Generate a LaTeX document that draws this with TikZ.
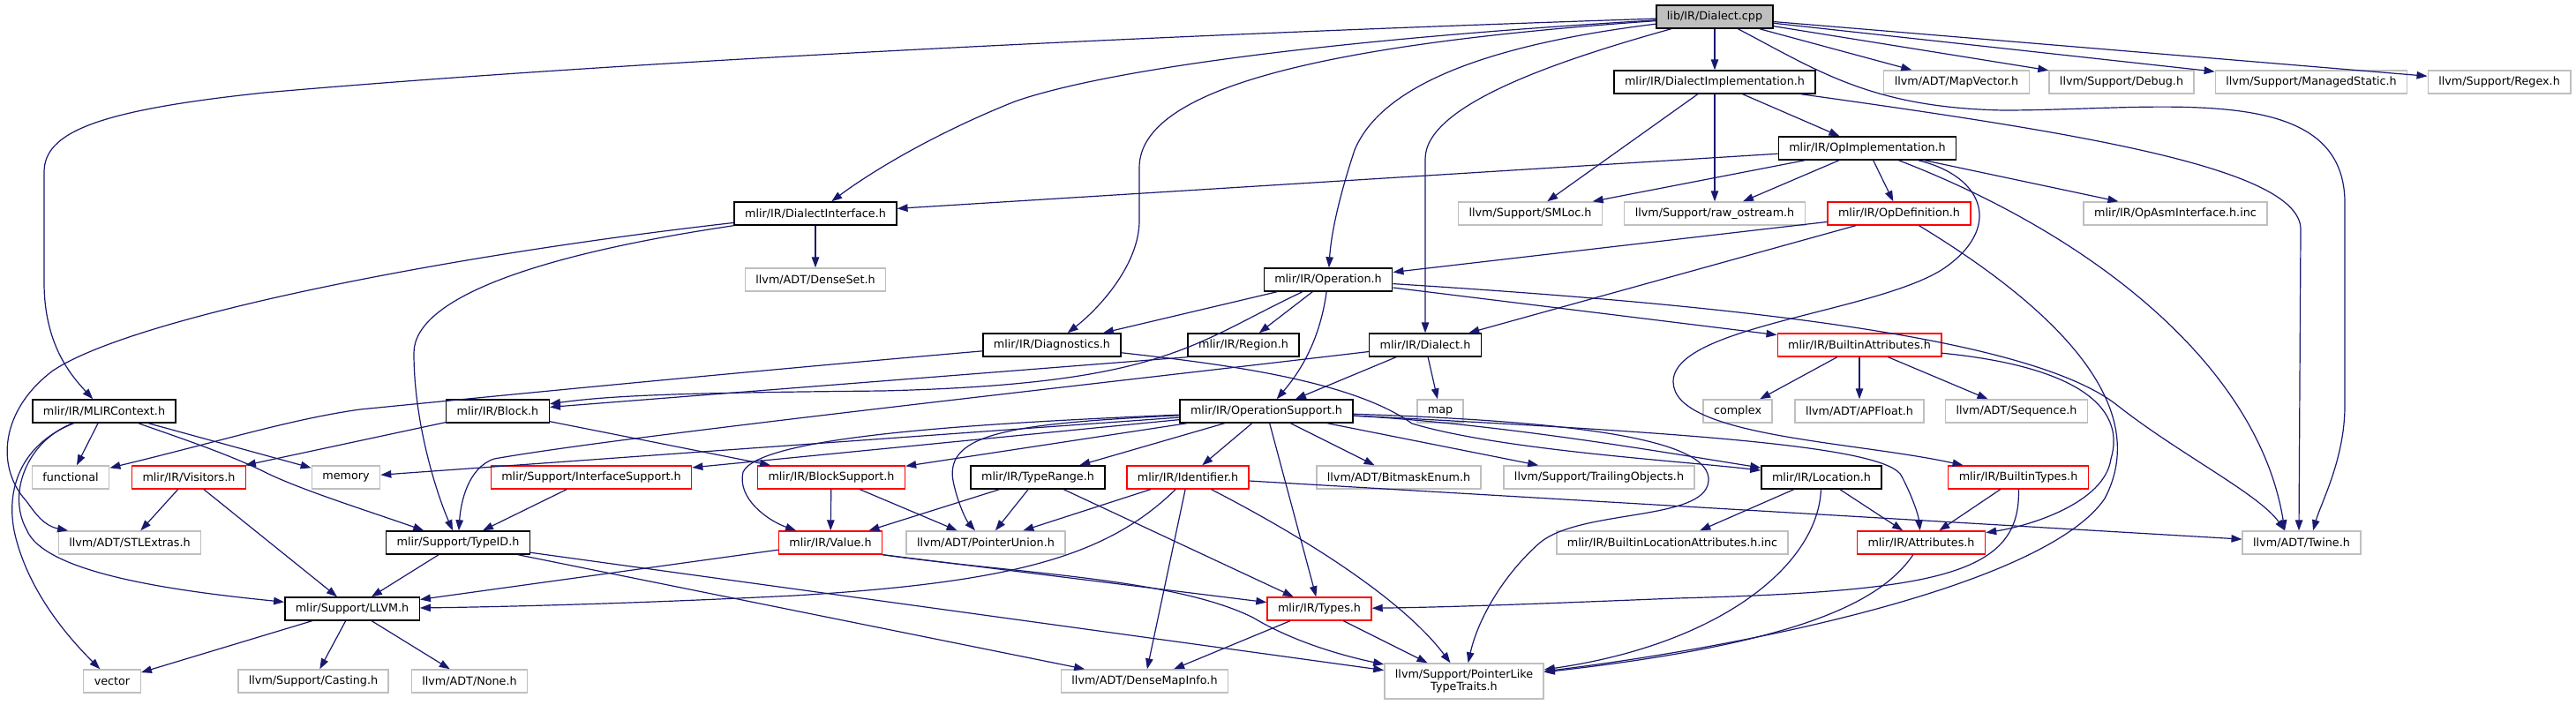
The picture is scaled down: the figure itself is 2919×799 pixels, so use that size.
\documentclass[tikz,border=0pt]{standalone}
\usepackage{fontspec}
\setmainfont{DejaVu Sans}
\usetikzlibrary{arrows.meta}
\definecolor{edgeblue}{RGB}{25,25,112}
\definecolor{extgrey}{RGB}{191,191,191}

\begin{document}
\begin{tikzpicture}[
  x=1pt, y=-1pt,
  font=\fontsize{12.75}{14.5}\selectfont,
  hdr/.style={line width=1.4pt, inner xsep=12pt, inner ysep=0pt,
    minimum height=26pt, align=center},
  doc/.style={hdr, draw=black},
  ext/.style={hdr, draw=extgrey},
  trunc/.style={hdr, draw=red},
  root/.style={doc, fill=extgrey},
  dep/.style={draw=edgeblue, line width=1.2pt,
    -{Triangle[length=12pt,width=8.5pt]}}
]
\useasboundingbox (0,0) rectangle (2919,799);

% row by row, as dot placed them
\node[root] (dialectcpp) at (1943,19) {lib/IR/Dialect.cpp};

\node[doc] (dialectimpl) at (1943,93) {mlir/IR/DialectImplementation.h};
\node[ext] (mapvector) at (2217,93) {llvm/ADT/MapVector.h};
\node[ext] (debug) at (2404,93) {llvm/Support/Debug.h};
\node[ext] (managedstatic) at (2619,93) {llvm/Support/ManagedStatic.h};
\node[ext] (regex) at (2832,93) {llvm/Support/Regex.h};

\node[doc] (opimpl) at (2116,168) {mlir/IR/OpImplementation.h};

\node[doc] (dialectiface) at (924,242) {mlir/IR/DialectInterface.h};
\node[ext] (smloc) at (1734,242) {llvm/Support/SMLoc.h};
\node[ext] (rawostream) at (1943,242) {llvm/Support/raw\_ostream.h};
\node[trunc] (opdef) at (2152,242) {mlir/IR/OpDefinition.h};
\node[ext] (opasm) at (2465,242) {mlir/IR/OpAsmInterface.h.inc};

\node[ext] (denseset) at (924,317) {llvm/ADT/DenseSet.h};
\node[doc] (operation) at (1505,317) {mlir/IR/Operation.h};

\node[doc] (diagnostics) at (1192,391) {mlir/IR/Diagnostics.h};
\node[doc] (region) at (1409,391) {mlir/IR/Region.h};
\node[doc] (dialecth) at (1615,391) {mlir/IR/Dialect.h};
\node[trunc] (builtinattr) at (2107,391) {mlir/IR/BuiltinAttributes.h};

\node[doc] (mlircontext) at (118,466) {mlir/IR/MLIRContext.h};
\node[doc] (block) at (564,466) {mlir/IR/Block.h};
\node[doc] (opsupport) at (1435,466) {mlir/IR/OperationSupport.h};
\node[ext] (map) at (1632,466) {map};
\node[ext] (complex) at (1969,466) {complex};
\node[ext] (apfloat) at (2107,466) {llvm/ADT/APFloat.h};
\node[ext] (sequence) at (2285,466) {llvm/ADT/Sequence.h};

\node[ext] (functional) at (80,541) {functional};
\node[trunc] (visitors) at (214,541) {mlir/IR/Visitors.h};
\node[ext] (memory) at (392,541) {memory};
\node[trunc] (ifacesupport) at (670,541) {mlir/Support/InterfaceSupport.h};
\node[trunc] (blocksupport) at (942,541) {mlir/IR/BlockSupport.h};
\node[doc] (typerange) at (1176,541) {mlir/IR/TypeRange.h};
\node[trunc] (identifier) at (1346,541) {mlir/IR/Identifier.h};
\node[ext] (bitmask) at (1585,541) {llvm/ADT/BitmaskEnum.h};
\node[ext] (trailing) at (1812,541) {llvm/Support/TrailingObjects.h};
\node[doc] (location) at (2064,541) {mlir/IR/Location.h};
\node[trunc] (builtintypes) at (2287,541) {mlir/IR/BuiltinTypes.h};

\node[ext] (stlextras) at (147,615) {llvm/ADT/STLExtras.h};
\node[doc] (typeid) at (519,615) {mlir/Support/TypeID.h};
\node[trunc] (value) at (941,615) {mlir/IR/Value.h};
\node[ext] (pointerunion) at (1117,615) {llvm/ADT/PointerUnion.h};
\node[ext] (builtinloc) at (1895,615) {mlir/IR/BuiltinLocationAttributes.h.inc};
\node[trunc] (attributes) at (2177,615) {mlir/IR/Attributes.h};
\node[ext] (twine) at (2608,615) {llvm/ADT/Twine.h};

\node[doc] (llvmh) at (399,690) {mlir/Support/LLVM.h};
\node[trunc] (types) at (1495,690) {mlir/IR/Types.h};

\node[ext] (vector) at (127,772) {vector};
\node[ext] (casting) at (355,772) {llvm/Support/Casting.h};
\node[ext] (none) at (532,772) {llvm/ADT/None.h};
\node[ext] (densemapinfo) at (1297,772) {llvm/ADT/DenseMapInfo.h};
\node[ext, minimum height=40pt] (pointerlike) at (1659,772) {llvm/Support/PointerLike\\TypeTraits.h};

% lib/IR/Dialect.cpp
\draw[dep] (dialectcpp) .. controls (1300,40) and (700,70) .. (300,105)
  .. controls (110,125) and (50,150) .. (50,195) -- (50,320)
  .. controls (50,390) and (80,425) .. (mlircontext);
\draw[dep] (dialectcpp) .. controls (1500,45) and (1250,80) .. (1150,115)
  .. controls (1050,155) and (980,200) .. (dialectiface);
\draw[dep] (dialectcpp) .. controls (1500,50) and (1291,100) .. (1291,190) -- (1291,250)
  .. controls (1291,300) and (1245,350) .. (diagnostics);
\draw[dep] (dialectcpp) .. controls (1650,55) and (1560,110) .. (1535,170)
  .. controls (1515,230) and (1508,270) .. (operation);
\draw[dep] (dialectcpp) .. controls (1760,70) and (1615,120) .. (1615,180) -- (dialecth);
\draw[dep] (dialectcpp) -- (dialectimpl);
\draw[dep] (dialectcpp) -- (mapvector);
\draw[dep] (dialectcpp) -- (debug);
\draw[dep] (dialectcpp) -- (managedstatic);
\draw[dep] (dialectcpp) -- (regex);
\draw[dep] (dialectcpp) .. controls (2060,80) and (2120,122) .. (2270,125)
  .. controls (2450,125) and (2657,90) .. (2657,230) -- (2657,460)
  .. controls (2657,520) and (2630,570) .. ([xshift=13pt]twine.north);

% DialectImplementation.h
\draw[dep] (dialectimpl) -- (opimpl);
\draw[dep] (dialectimpl) -- (smloc);
\draw[dep] (dialectimpl) -- (rawostream);
\draw[dep] (dialectimpl) .. controls (2350,150) and (2607,190) .. (2607,260)
  -- ([xshift=-3pt]twine.north);

% OpImplementation.h
\draw[dep] (opimpl) -- (dialectiface);
\draw[dep] (opimpl) -- (smloc);
\draw[dep] (opimpl) -- (rawostream);
\draw[dep] (opimpl) -- (opdef);
\draw[dep] (opimpl) -- (opasm);
\draw[dep] (opimpl) .. controls (2380,270) and (2560,420) .. ([xshift=-19pt]twine.north);
\draw[dep] (opimpl) .. controls (2250,200) and (2270,260) .. (2200,306)
  .. controls (2120,355) and (1895,370) .. (1896,433)
  .. controls (1897,495) and (2100,500) .. (builtintypes);

% OpDefinition.h
\draw[dep] (opdef) -- (operation);
\draw[dep] (opdef) -- (dialecth);
\draw[dep] (opdef) .. controls (2330,350) and (2440,460) .. (2385,565)
  .. controls (2320,660) and (2000,730) .. (pointerlike);

% Operation.h
\draw[dep] (operation) -- (diagnostics);
\draw[dep] (operation) .. controls (1350,390) and (1320,435) .. (1000,443)
  .. controls (800,445) and (700,447) .. (block);
\draw[dep] (operation) -- (region);
\draw[dep] (operation) .. controls (1495,390) and (1470,425) .. (opsupport);
\draw[dep] (operation) -- (builtinattr);
\draw[dep] (operation) .. controls (1950,345) and (2300,380) .. (2400,460)
  .. controls (2470,515) and (2560,560) .. ([xshift=-19pt]twine.north);

% Diagnostics.h, Region.h, Dialect.h
\draw[dep] (diagnostics) .. controls (800,425) and (500,455) .. (408,464)
  .. controls (330,475) and (250,500) .. (functional);
\draw[dep] (diagnostics) .. controls (1380,412) and (1530,430) .. (1600,480)
  .. controls (1700,510) and (1900,522) .. (location);
\draw[dep] (region.south west) -- (block);
\draw[dep] (dialecth) -- (map);
\draw[dep] (dialecth) -- (opsupport);
\draw[dep] (dialecth) .. controls (1200,440) and (700,495) .. (560,520)
  .. controls (530,530) and (522,570) .. (typeid);

% BuiltinAttributes.h
\draw[dep] (builtinattr) -- (complex);
\draw[dep] (builtinattr) -- (apfloat);
\draw[dep] (builtinattr) -- (sequence);
\draw[dep] (builtinattr) .. controls (2350,415) and (2410,460) .. (2392,520)
  .. controls (2385,570) and (2300,596) .. (attributes);

% MLIRContext.h, Block.h, DialectInterface.h
\draw[dep] (mlircontext) -- (functional);
\draw[dep] (mlircontext) -- (memory);
\draw[dep] (mlircontext) .. controls (200,495) and (260,515) .. (300,535)
  .. controls (340,555) and (420,580) .. (typeid);
\draw[dep] (mlircontext) .. controls (30,500) and (8,560) .. (30,600)
  .. controls (50,650) and (200,670) .. (llvmh);
\draw[dep] (mlircontext) .. controls (20,505) and (5,560) .. (18,610)
  .. controls (35,675) and (80,725) .. (vector);
\draw[dep] (block) -- (visitors);
\draw[dep] (block) -- (blocksupport);
\draw[dep] (dialectiface) -- (denseset);
\draw[dep] (dialectiface) .. controls (600,290) and (469,340) .. (469,400)
  .. controls (469,480) and (495,560) .. (typeid);
\draw[dep] (dialectiface) .. controls (500,290) and (150,360) .. (60,420)
  .. controls (0,465) and (-5,530) .. (30,568)
  .. controls (40,582) and (50,596) .. (stlextras);

% OperationSupport.h
\draw[dep] (opsupport) -- (memory);
\draw[dep] (opsupport) -- (ifacesupport);
\draw[dep] (opsupport) .. controls (1100,480) and (860,495) .. (842,535)
  .. controls (835,565) and (870,590) .. (value);
\draw[dep] (opsupport) .. controls (1150,480) and (1070,490) .. (1080,545)
  .. controls (1085,570) and (1095,590) .. (pointerunion);
\draw[dep] (opsupport) -- (blocksupport);
\draw[dep] (opsupport) -- (typerange);
\draw[dep] (opsupport) -- (identifier);
\draw[dep] (opsupport) -- (types);
\draw[dep] (opsupport) -- (bitmask);
\draw[dep] (opsupport) -- (trailing);
\draw[dep] (opsupport) .. controls (1700,480) and (1900,515) .. (location);
\draw[dep] (opsupport) .. controls (1900,490) and (2140,505) .. (2155,540)
  .. controls (2168,565) and (2174,585) .. (attributes);
\draw[dep] (opsupport) .. controls (1800,478) and (1950,500) .. (1935,550)
  .. controls (1922,590) and (1790,578) .. (1745,615)
  .. controls (1705,650) and (1675,700) .. (pointerlike);

% second level headers
\draw[dep] (visitors) -- (stlextras);
\draw[dep] (visitors) -- (llvmh);
\draw[dep] (ifacesupport) -- (typeid);
\draw[dep] (blocksupport) -- (value);
\draw[dep] (blocksupport) -- (pointerunion);
\draw[dep] (typerange) -- (value);
\draw[dep] (typerange) -- (pointerunion);
\draw[dep] (typerange) -- (types);
\draw[dep] (identifier) -- (pointerunion);
\draw[dep] (identifier) .. controls (1255,630) and (1150,660) .. (900,675)
  .. controls (700,685) and (550,688) .. (llvmh);
\draw[dep] (identifier) -- (densemapinfo);
\draw[dep] (identifier) .. controls (1480,610) and (1590,680) .. (pointerlike);
\draw[dep] (identifier) -- (twine);
\draw[dep] (location) -- (builtinloc);
\draw[dep] (location) -- (attributes);
\draw[dep] (location) .. controls (2060,640) and (1950,730) .. (pointerlike);
\draw[dep] (builtintypes) -- (attributes);
\draw[dep] (builtintypes) .. controls (2290,650) and (2200,670) .. (1900,678)
  .. controls (1750,684) and (1650,688) .. (types);
\draw[dep] (attributes) .. controls (2130,685) and (2030,730) .. (pointerlike);

% bottom rows
\draw[dep] (typeid) -- (llvmh);
\draw[dep] (typeid) -- (pointerlike);
\draw[dep] (typeid) -- (densemapinfo);
\draw[dep] (value) -- (llvmh);
\draw[dep] (value.south east) -- (types);
\draw[dep] (value.south east) .. controls (1150,650) and (1330,655) .. (1420,700)
  .. controls (1470,730) and (1530,745) .. (pointerlike);
\draw[dep] (types) -- (densemapinfo);
\draw[dep] (types) -- (pointerlike);
\draw[dep] (llvmh) -- (vector);
\draw[dep] (llvmh) -- (casting);
\draw[dep] (llvmh) -- (none);
\end{tikzpicture}
\end{document}
